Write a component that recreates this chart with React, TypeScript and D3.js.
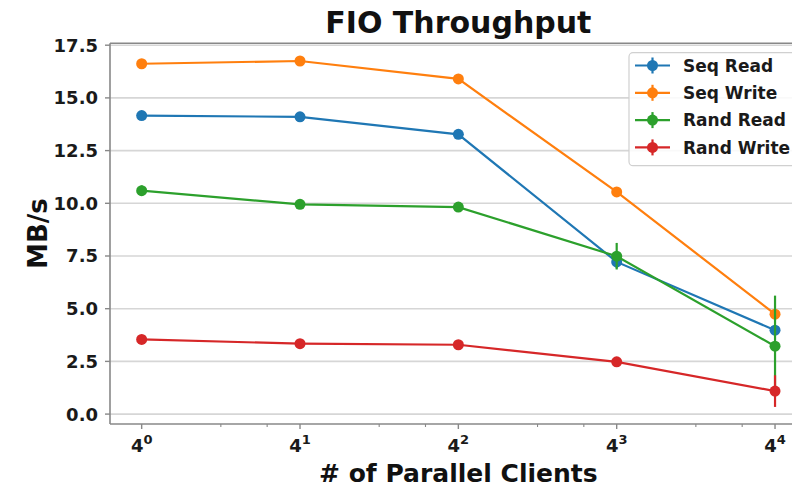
import React, { useRef, useEffect } from "react";
import * as d3 from "d3";

// x values: number of parallel clients (log base 4 axis)
const clients = [1, 4, 16, 64, 256];

const seqRead = [14.16, 14.1, 13.27, 7.22, 3.98];
const seqWrite = [16.62, 16.75, 15.9, 10.54, 4.74];
const randRead = [10.6, 9.95, 9.82, 7.49, 3.22];
const randWrite = [3.54, 3.34, 3.29, 2.48, 1.09];

// error bar half-widths
const seqReadErr = [0.08, 0.08, 0.1, 0.3, 0.15];
const seqWriteErr = [0.06, 0.06, 0.08, 0.1, 0.25];
const randReadErr = [0.25, 0.1, 0.1, 0.63, 2.4];
const randWriteErr = [0.06, 0.06, 0.06, 0.08, 0.75];

const seriesNames = ["Seq Read", "Seq Write", "Rand Read", "Rand Write"];
const colors = ["#1f77b4", "#ff7f0e", "#2ca02c", "#d62728"];
const yTicks = [0, 2.5, 5, 7.5, 10, 12.5, 15, 17.5];

const FONT = "'DejaVu Sans', sans-serif";

const App: React.FC = () => {
  const ref = useRef<SVGSVGElement | null>(null);

  useEffect(() => {
    const svg = d3.select(ref.current);
    svg.selectAll("*").remove();

    const left = 110;
    const right = 806.7;
    const top = 43.3;
    const bottom = 424;

    const x = d3
      .scaleLog()
      .base(4)
      .domain([Math.pow(4, -0.2), Math.pow(4, 4.2)])
      .range([left, right]);

    const y = d3.scaleLinear().domain([-0.47, 17.59]).range([bottom, top]);

    const series = [
      { name: seriesNames[0], values: seqRead, err: seqReadErr, color: colors[0] },
      { name: seriesNames[1], values: seqWrite, err: seqWriteErr, color: colors[1] },
      { name: seriesNames[2], values: randRead, err: randReadErr, color: colors[2] },
      { name: seriesNames[3], values: randWrite, err: randWriteErr, color: colors[3] },
    ];

    const g = svg.append("g");

    // horizontal grid
    g.append("g")
      .selectAll("line")
      .data(yTicks)
      .join("line")
      .attr("x1", left)
      .attr("x2", right)
      .attr("y1", (d) => y(d))
      .attr("y2", (d) => y(d))
      .attr("stroke", "#d6d6d6")
      .attr("stroke-width", 1.6);

    // series: lines, error bars, markers
    const line = d3
      .line<number>()
      .x((_, i) => x(clients[i]))
      .y((d) => y(d));

    series.forEach((s) => {
      const sg = g.append("g");
      sg.append("path")
        .datum(s.values)
        .attr("fill", "none")
        .attr("stroke", s.color)
        .attr("stroke-width", 2.2)
        .attr("d", line);
      sg.selectAll("line.err")
        .data(s.values)
        .join("line")
        .attr("class", "err")
        .attr("x1", (_, i) => x(clients[i]))
        .attr("x2", (_, i) => x(clients[i]))
        .attr("y1", (d, i) => y(d - s.err[i]))
        .attr("y2", (d, i) => y(d + s.err[i]))
        .attr("stroke", s.color)
        .attr("stroke-width", 2.2);
      sg.selectAll("circle")
        .data(s.values)
        .join("circle")
        .attr("cx", (_, i) => x(clients[i]))
        .attr("cy", (d) => y(d))
        .attr("r", 5.5)
        .attr("fill", s.color);
    });

    // spines
    const spine = "#888888";
    g.append("line")
      .attr("x1", left).attr("x2", left)
      .attr("y1", top).attr("y2", bottom)
      .attr("stroke", spine).attr("stroke-width", 1.6);
    g.append("line")
      .attr("x1", left).attr("x2", right)
      .attr("y1", bottom).attr("y2", bottom)
      .attr("stroke", spine).attr("stroke-width", 1.6);
    g.append("line")
      .attr("x1", left).attr("x2", right)
      .attr("y1", top).attr("y2", top)
      .attr("stroke", spine).attr("stroke-width", 1.6);

    // y ticks
    const yt = g.append("g");
    yt.selectAll("line")
      .data(yTicks)
      .join("line")
      .attr("x1", left - 5)
      .attr("x2", left)
      .attr("y1", (d) => y(d))
      .attr("y2", (d) => y(d))
      .attr("stroke", spine)
      .attr("stroke-width", 1.4);
    yt.selectAll("text")
      .data(yTicks)
      .join("text")
      .attr("x", left - 12)
      .attr("y", (d) => y(d))
      .attr("dy", "0.36em")
      .attr("text-anchor", "end")
      .attr("font-family", FONT)
      .attr("font-weight", "bold")
      .attr("font-size", 18)
      .attr("fill", "#1a1a1a")
      .text((d) => d.toFixed(1));

    // x ticks (major + minor at 2,3 multiples)
    const minor: number[] = [];
    for (let k = -1; k <= 4; k++) {
      [2, 3].forEach((m) => {
        const v = m * Math.pow(4, k);
        if (v > x.domain()[0] && v < x.domain()[1]) minor.push(v);
      });
    }
    const xt = g.append("g");
    xt.selectAll("line.minor")
      .data(minor)
      .join("line")
      .attr("class", "minor")
      .attr("x1", (d) => x(d))
      .attr("x2", (d) => x(d))
      .attr("y1", bottom)
      .attr("y2", bottom + 3)
      .attr("stroke", spine)
      .attr("stroke-width", 1.1);
    xt.selectAll("line.major")
      .data(clients)
      .join("line")
      .attr("class", "major")
      .attr("x1", (d) => x(d))
      .attr("x2", (d) => x(d))
      .attr("y1", bottom)
      .attr("y2", bottom + 5)
      .attr("stroke", spine)
      .attr("stroke-width", 1.4);
    const xl = xt
      .selectAll("text")
      .data(clients)
      .join("text")
      .attr("x", (d) => x(d))
      .attr("y", 452)
      .attr("text-anchor", "middle")
      .attr("font-family", FONT)
      .attr("font-weight", "bold")
      .attr("font-size", 18)
      .attr("fill", "#1a1a1a");
    xl.append("tspan").text("4");
    xl.append("tspan")
      .attr("dy", -8)
      .attr("font-size", 13)
      .text((d) => String(Math.round(Math.log(d) / Math.log(4))));

    // legend
    const lg = g.append("g");
    lg.append("rect")
      .attr("x", 629)
      .attr("y", 52.7)
      .attr("width", 172)
      .attr("height", 113)
      .attr("rx", 4)
      .attr("fill", "white")
      .attr("fill-opacity", 0.85)
      .attr("stroke", "#d0d0d0")
      .attr("stroke-width", 1.2);
    series.forEach((s, i) => {
      const ly = 65.5 + i * 27.3;
      lg.append("line")
        .attr("x1", 635).attr("x2", 670)
        .attr("y1", ly).attr("y2", ly)
        .attr("stroke", s.color).attr("stroke-width", 2.2);
      lg.append("line")
        .attr("x1", 652.5).attr("x2", 652.5)
        .attr("y1", ly - 8).attr("y2", ly + 8)
        .attr("stroke", s.color).attr("stroke-width", 2.2);
      lg.append("circle")
        .attr("cx", 652.5).attr("cy", ly).attr("r", 5.5)
        .attr("fill", s.color);
      lg.append("text")
        .attr("x", 683)
        .attr("y", ly)
        .attr("dy", "0.36em")
        .attr("font-family", FONT)
        .attr("font-weight", "bold")
        .attr("font-size", 17)
        .attr("fill", "#1a1a1a")
        .text(s.name);
    });

    // title and axis labels
    const cx = (left + right) / 2;
    g.append("text")
      .attr("x", cx)
      .attr("y", 33)
      .attr("text-anchor", "middle")
      .attr("font-family", FONT)
      .attr("font-weight", "bold")
      .attr("font-size", 30)
      .attr("fill", "#111")
      .text("FIO Throughput");
    g.append("text")
      .attr("x", cx)
      .attr("y", 482)
      .attr("text-anchor", "middle")
      .attr("font-family", FONT)
      .attr("font-weight", "bold")
      .attr("font-size", 25)
      .attr("fill", "#111")
      .text("# of Parallel Clients");
    g.append("text")
      .attr("transform", `translate(47,${(top + bottom) / 2}) rotate(-90)`)
      .attr("text-anchor", "middle")
      .attr("font-family", FONT)
      .attr("font-weight", "bold")
      .attr("font-size", 26)
      .attr("fill", "#111")
      .text("MB/s");
  }, []);

  return (
    <div style={{ position: "absolute", left: 0, top: 0 }}>
      <svg ref={ref} width={792} height={488} style={{ display: "block", background: "white" }} />
    </div>
  );
};

export default App;
